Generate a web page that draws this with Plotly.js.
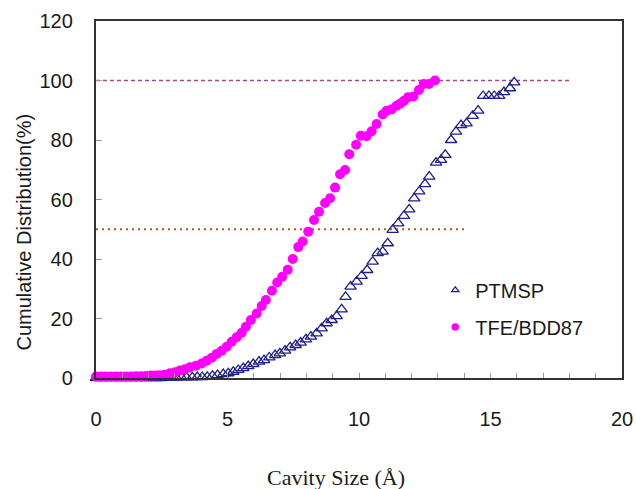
<!DOCTYPE html>
<html>
<head>
<meta charset="utf-8">
<script src="https://cdn.plot.ly/plotly-3.0.1.min.js"></script>
<style>
html,body{margin:0;padding:0;background:#fff;}
#chart{width:636px;height:489px;}
</style>
</head>
<body>
<div id="chart"></div>
<script>
// TFE/BDD87 cumulative distribution
var tfeX = [0,0.19,0.38,0.57,0.76,0.95,1.14,1.33,1.52,1.71,1.90,2.09,2.26,2.43,2.62,2.81,3.00,3.19,3.38,3.57,
  3.80,4.02,4.21,4.40,4.59,4.78,4.97,5.16,5.35,5.54,5.70,5.89,6.11,6.30,6.46,6.69,6.89,7.08,7.29,7.48,
  7.69,7.86,8.07,8.29,8.48,8.71,8.90,9.09,9.28,9.47,9.63,9.89,10.07,10.29,10.48,10.67,10.90,11.05,11.24,11.43,
  11.58,11.71,11.87,12.07,12.28,12.46,12.66,12.89];
var tfeY = [0.5,0.5,0.5,0.5,0.5,0.5,0.5,0.5,0.6,0.6,0.7,0.8,0.8,0.9,1.1,1.6,1.9,2.5,2.9,3.6,
  4.1,4.9,5.8,6.8,8.1,9.2,10.5,12.2,13.7,15.2,17.2,19.5,21.7,24.2,26.2,29.3,32.1,34.0,36.4,40.0,
  44.0,45.9,49.2,53.1,55.9,58.8,60.4,64.0,68.5,69.9,75.2,78.4,81.4,81.3,82.9,85.4,88.6,89.8,90.3,91.5,
  92.3,93.2,94.4,94.6,96.8,98.8,98.8,100];

// PTMSP cumulative distribution
var ptmspX = [0,0.19,0.38,0.57,0.76,0.95,1.14,1.33,1.52,1.71,1.90,2.09,2.29,2.48,2.68,2.87,3.06,3.25,3.44,3.66,
  3.85,4.04,4.23,4.43,4.62,4.84,5.03,5.22,5.41,5.60,5.79,5.98,6.20,6.39,6.59,6.81,6.99,7.19,7.38,7.59,
  7.78,7.98,8.17,8.39,8.58,8.77,8.96,9.15,9.34,9.49,9.68,9.91,10.10,10.31,10.52,10.71,10.90,11.09,11.28,11.49,
  11.71,11.91,12.10,12.29,12.51,12.67,12.93,13.12,13.28,13.50,13.69,13.88,14.09,14.32,14.53,14.72,14.94,15.14,15.33,15.51,
  15.74,15.90];
var ptmspY = [0,0,0,0,0,0,0,0,0,0,0,0,0,0,0.1,0.1,0.1,0.2,0.2,0.2,
  0.3,0.3,0.4,0.7,1.0,1.3,1.6,2.1,2.7,3.3,4.0,4.7,5.5,6.0,6.9,7.7,8.3,9.2,10.3,11.1,
  11.9,13.0,13.9,15.0,16.7,18.4,19.5,20.8,23.1,27.3,30.7,32.4,34.3,36.3,39.1,42.0,42.5,45.3,49.8,52.0,
  54.5,56.7,60.4,62.7,65.2,67.7,72.4,73.3,75.0,80.0,82.8,85.0,85.6,88.1,89.9,94.8,94.8,94.8,94.8,96.1,
  97.4,99.4];

// Reference lines
var line100X = [0, 18];
var line100Y = [100, 100];
var line50X = [0, 14];
var line50Y = [50, 50];

var xTickVals = [0, 5, 10, 15, 20];
var yTickVals = [0, 20, 40, 60, 80, 100, 120];

var traces = [
  {x: line100X, y: line100Y, mode: 'lines', line: {color: '#a8488a', width: 1.4, dash: '4px,3px'}, showlegend: false, hoverinfo: 'skip'},
  {x: line50X, y: line50Y, mode: 'lines', line: {color: '#b8541e', width: 1.8, dash: '2px,4px'}, showlegend: false, hoverinfo: 'skip'},
  {x: ptmspX, y: ptmspY, mode: 'markers', name: 'PTMSP', showlegend: false, cliponaxis: false,
   marker: {symbol: 'triangle-up-open', size: 10, color: '#1e1e8c', line: {width: 1.3, color: '#1e1e8c'}}},
  {x: tfeX, y: tfeY, mode: 'markers', name: 'TFE/BDD87', showlegend: false, cliponaxis: false,
   marker: {symbol: 'circle', size: 10, color: '#ff00ff'}},
  {x: [null], y: [null], mode: 'markers', name: 'PTMSP', legendgroup: 'a',
   marker: {symbol: 'triangle-up-open', size: 6.5, color: '#1e1e8c', line: {width: 1.2, color: '#1e1e8c'}}},
  {x: [null], y: [null], mode: 'markers', name: 'TFE/BDD87', legendgroup: 'b',
   marker: {symbol: 'circle', size: 7.5, color: '#ff00ff'}}
];

var layout = {
  width: 636, height: 489,
  margin: {l: 96, r: 14, t: 21, b: 111},
  paper_bgcolor: '#fff', plot_bgcolor: '#fff',
  font: {family: 'Liberation Sans, Arial, sans-serif', size: 20, color: '#1a1a1a'},
  showlegend: true,
  legend: {x: 0.645, y: 0.301, xanchor: 'left', yanchor: 'top', bgcolor: 'rgba(0,0,0,0)',
           font: {size: 20, color: '#1a1a1a'}, traceorder: 'grouped', tracegroupgap: 8},
  xaxis: {range: [0, 20], tickvals: xTickVals, ticks: 'inside', ticklen: 5, tickcolor: '#999', tickwidth: 1,
          minor: {dtick: 1, ticks: 'inside', ticklen: 5, tickcolor: '#999', tickwidth: 1},
          showgrid: false, zeroline: false, showline: true, mirror: true, linecolor: '#333', linewidth: 2.2,
          ticklabelstandoff: 22, tickfont: {size: 20, color: '#1a1a1a'}},
  yaxis: {range: [0, 120], tickvals: yTickVals, ticks: 'inside', ticklen: 6, tickcolor: '#999', tickwidth: 1,
          showgrid: false, zeroline: false, showline: true, mirror: true, linecolor: '#333', linewidth: 2.2,
          ticklabelstandoff: 17, tickfont: {size: 20, color: '#1a1a1a'}},
  annotations: [
    {text: 'Cumulative Distribution(%)', xref: 'paper', yref: 'paper', x: -0.137, y: 0.41, xanchor: 'center', yanchor: 'middle',
     textangle: -90, showarrow: false, font: {family: 'Liberation Sans, Arial, sans-serif', size: 20, color: '#1a1a1a'}},
    {text: 'Cavity Size (Å)', xref: 'paper', yref: 'paper', x: 0.456, y: -0.28, xanchor: 'center', yanchor: 'middle',
     showarrow: false, font: {family: 'Liberation Serif, Times New Roman, serif', size: 22, color: '#1a1a1a'}}
  ]
};

Plotly.newPlot('chart', traces, layout, {staticPlot: true, displayModeBar: false});
</script>
</body>
</html>
